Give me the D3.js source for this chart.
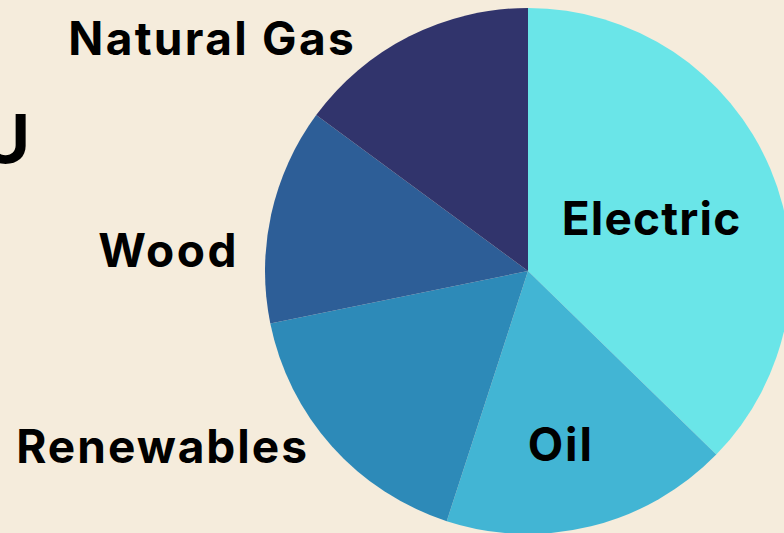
<!DOCTYPE html>
<html>
<head>
<meta charset="utf-8">
<script src="https://cdn.jsdelivr.net/npm/d3@7"></script>
<style>
  html, body { margin: 0; padding: 0; background: #F5ECDC; }
  svg { display: block; }
  text { font-family: Inter, "Open Sans", sans-serif; font-weight: 700; fill: #000; }
</style>
</head>
<body>
<svg id="chart" width="784" height="533"></svg>
<script>
// Home heating fuel shares (percent)
const categories = ["Electric", "Oil", "Renewables", "Wood", "Natural Gas"];
const shares = [37.3, 17.7, 16.8, 13.3, 14.9];
const colors = ["#6AE5E8", "#42B5D4", "#2D8AB8", "#2D5E97", "#31346C"];

const width = 784, height = 533;
const cx = 528, cy = 271, radius = 263;

const svg = d3.select("#chart");
svg.append("rect").attr("width", width).attr("height", height).attr("fill", "#F5ECDC");

// Partial heading at the left edge
svg.append("text")
  .attr("x", 30).attr("y", 163)
  .attr("text-anchor", "end")
  .attr("font-size", 67)
  .text("U");

const data = categories.map((c, i) => ({ name: c, value: shares[i], color: colors[i] }));

const pie = d3.pie().sort(null).value(d => d.value).startAngle(0).endAngle(2 * Math.PI);
const arcs = pie(data);
const arc = d3.arc().innerRadius(0).outerRadius(radius);

const g = svg.append("g").attr("transform", `translate(${cx},${cy})`);

g.selectAll("path")
  .data(arcs)
  .join("path")
  .attr("d", arc)
  .attr("fill", d => d.data.color);

// Label placement: inside slices use a centroid at a fraction of the radius,
// outer labels sit to the left of the pie, right-aligned.
const labelLayout = {
  "Electric":    { inside: true, r: 0.51, shift: 0, spacing: 1.2 },
  "Oil":         { inside: true, r: 0.68, shift: -10, spacing: 2 },
  "Renewables":  { inside: false, dx: -219, dy: 175, spacing: 2 },
  "Wood":        { inside: false, dx: -289, dy: -21, spacing: 2.5 },
  "Natural Gas": { inside: false, dx: -172, dy: -233, spacing: 2.3 }
};

const fontSize = 46;
g.selectAll("text.label")
  .data(arcs)
  .join("text")
  .attr("class", "label")
  .attr("font-size", fontSize)
  .each(function(d) {
    const L = labelLayout[d.data.name];
    const t = d3.select(this).attr("letter-spacing", L.spacing);
    if (L.inside) {
      const a = (d.startAngle + d.endAngle) / 2;
      const rr = radius * L.r;
      t.attr("x", Math.sin(a) * rr + L.shift)
       .attr("y", -Math.cos(a) * rr + fontSize * 0.36)
       .attr("text-anchor", "middle");
    } else {
      t.attr("x", L.dx)
       .attr("y", L.dy + fontSize * 0.36)
       .attr("text-anchor", "end");
    }
  })
  .text(d => d.data.name);
</script>
</body>
</html>
